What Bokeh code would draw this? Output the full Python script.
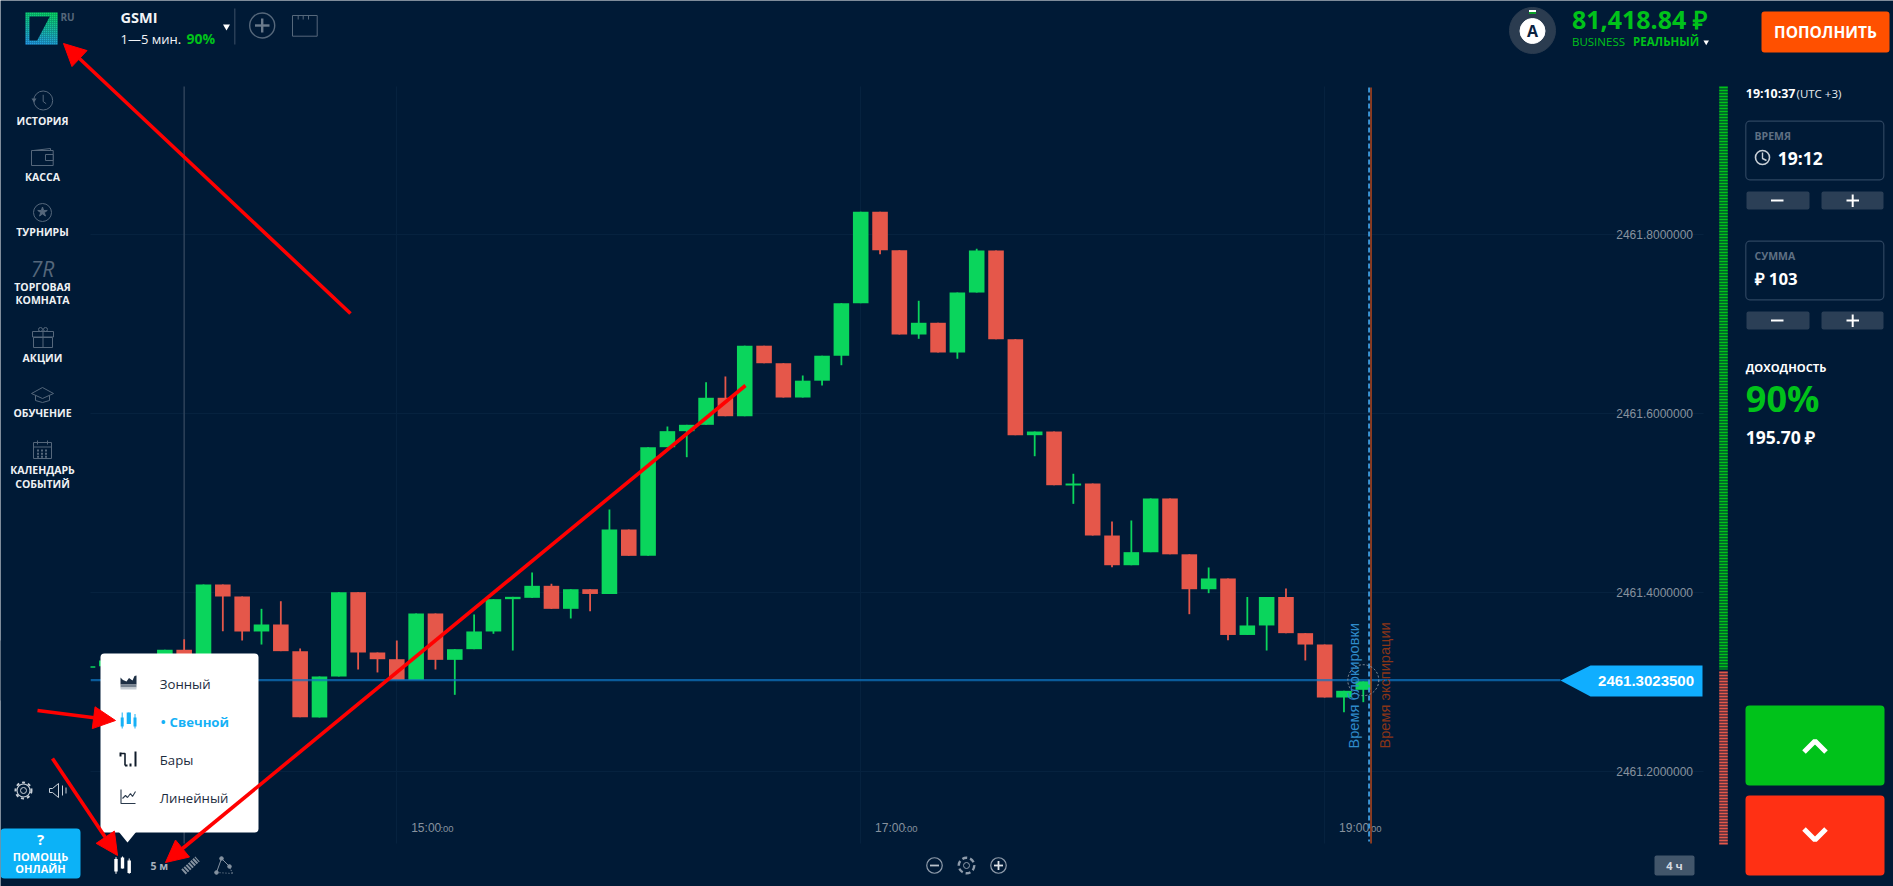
from math import pi
import numpy as np
from bokeh.core.properties import value
from bokeh.embed import file_html
from bokeh.models import Arrow, BoxAnnotation, ColumnDataSource, FixedTicker, Grid, LinearAxis, NormalHead, PrintfTickFormatter, Range1d
from bokeh.plotting import figure
from bokeh.resources import INLINE

# ---------- data ----------
first_candle_minute = 820          # 13:40, minutes since midnight, 5 min candles
open_ = [2461.3162,2461.3180,2461.3244,2461.3180,2461.3244,2461.3363,2461.3244,2461.4093,2461.3959,2461.3568,2461.3646,2461.3348,2461.2607,2461.3065,2461.4007,2461.3333,2461.3258,2461.3026,2461.3769,2461.3251,2461.3370,2461.3568,2461.3929,2461.3944,2461.4078,2461.3821,2461.4040,2461.3987,2461.4707,2461.4413,2461.5627,2461.5806,2461.5877,2461.6179,2461.5973,2461.6761,2461.6565,2461.6182,2461.6370,2461.6649,2461.7236,2461.8257,2461.7828,2461.6886,2461.7017,2461.6685,2461.7355,2461.7825,2461.6834,2461.5761,2461.5802,2461.5199,2461.5221,2461.4640,2461.4308,2461.4454,2461.5054,2461.4430,2461.4040,2461.4160,2461.3529,2461.3635,2461.3953,2461.3549,2461.3422,2461.2830,2461.2916]
close = [2461.3180,2461.3244,2461.3180,2461.3244,2461.3363,2461.3244,2461.4093,2461.3959,2461.3568,2461.3646,2461.3348,2461.2610,2461.3065,2461.4007,2461.3333,2461.3258,2461.3026,2461.3769,2461.3251,2461.3370,2461.3568,2461.3929,2461.3955,2461.4078,2461.3821,2461.4040,2461.3987,2461.4707,2461.4413,2461.5627,2461.5806,2461.5877,2461.6179,2461.5973,2461.6761,2461.6565,2461.6182,2461.6370,2461.6649,2461.7236,2461.8257,2461.7828,2461.6886,2461.7017,2461.6685,2461.7355,2461.7825,2461.6834,2461.5761,2461.5802,2461.5202,2461.5221,2461.4640,2461.4308,2461.4454,2461.5054,2461.4430,2461.4040,2461.4160,2461.3529,2461.3635,2461.3953,2461.3549,2461.3422,2461.2830,2461.2905,2461.3012]
high  = [2461.3180,2461.3244,2461.3244,2461.3244,2461.3363,2461.3482,2461.4093,2461.4093,2461.3959,2461.3821,2461.3906,2461.3378,2461.3065,2461.4007,2461.4007,2461.3333,2461.3467,2461.3769,2461.3769,2461.3370,2461.3758,2461.3929,2461.3955,2461.4227,2461.4101,2461.4040,2461.4040,2461.4931,2461.4707,2461.5627,2461.5858,2461.5877,2461.6353,2461.6417,2461.6761,2461.6761,2461.6565,2461.6428,2461.6649,2461.7236,2461.8257,2461.8257,2461.7828,2461.7263,2461.7017,2461.7355,2461.7844,2461.7825,2461.6834,2461.5802,2461.5802,2461.5330,2461.5221,2461.4797,2461.4808,2461.5054,2461.5054,2461.4430,2461.4283,2461.4160,2461.3953,2461.3953,2461.4048,2461.3549,2461.3422,2461.2905,2461.3012]
low   = [2461.3162,2461.3180,2461.3180,2461.3180,2461.3244,2461.3244,2461.3244,2461.3571,2461.3467,2461.3422,2461.3348,2461.2610,2461.2607,2461.3065,2461.3143,2461.3110,2461.3026,2461.3026,2461.3143,2461.2860,2461.3370,2461.3542,2461.3355,2461.3944,2461.3821,2461.3713,2461.3794,2461.3987,2461.4413,2461.4413,2461.5627,2461.5515,2461.5877,2461.5973,2461.5973,2461.6565,2461.6182,2461.6182,2461.6316,2461.6543,2461.7236,2461.7783,2461.6886,2461.6838,2461.6685,2461.6615,2461.7355,2461.6834,2461.5761,2461.5526,2461.5202,2461.4994,2461.4640,2461.4286,2461.4308,2461.4454,2461.4430,2461.3761,2461.3996,2461.3470,2461.3529,2461.3355,2461.3549,2461.3244,2461.2830,2461.2666,2461.2778]

price_ticks = [2461.2, 2461.4, 2461.6, 2461.8]
time_ticks = [900, 1020, 1140]
time_labels = ["15:00", "17:00", "19:00"]
seconds_label = ":00"
current_price = 2461.30235
current_price_label = "2461.3023500"
window_marker_minute = 845
lock_minute = 1151.5
expiry_minute = 1152
lock_label = "Время блокировки"
expiry_label = "Время экспирации"

nav_labels = ["ИСТОРИЯ", "КАССА", "ТУРНИРЫ", "ТОРГОВАЯ", "КОМНАТА", "АКЦИИ", "ОБУЧЕНИЕ", "КАЛЕНДАРЬ", "СОБЫТИЙ"]
nav_label_y = [120.7, 176, 231.7, 286, 299.7, 357.7, 412, 469.7, 483.7]
menu_labels = ["Зонный", "Свечной", "Бары", "Линейный"]

# ---------- colours ----------
BG = "#001a36"; GREEN = "#0ad55c"; RED = "#e5574a"; UI_GREEN = "#00c21a"; GRID = "#06223f"
ICON = "#55677b"; TXT = "#eef1f4"; AXIS_TXT = "#87929e"; LINE_RED = "#ff0000"; PANEL = "#2b3f56"

W, H = 1893, 886
X0_PX, X0_MIN, PX_PER_MIN = 396.3, 900.0, 19.33 / 5
Y0_PX, Y0_VAL, PX_PER_VAL = 234.3, 2461.8, 895.0
def to_min(px): return X0_MIN + (px - X0_PX) / PX_PER_MIN
def to_val(py): return Y0_VAL - (py - Y0_PX) / PX_PER_VAL

p = figure(width=W, height=H, output_backend="svg", toolbar_location=None, tools="",
           x_range=Range1d(to_min(0), to_min(W)), y_range=Range1d(to_val(H), to_val(0)),
           x_axis_location=None, y_axis_location=None, min_border=0, outline_line_color=None,
           background_fill_color=BG, border_fill_color=BG)
p.extra_x_ranges["px"] = Range1d(0, W)
p.extra_y_ranges["px"] = Range1d(H, 0)
p.xgrid.visible = False
p.ygrid.visible = False
PX = dict(x_range_name="px", y_range_name="px")

def txt(x, y, s, size, color=TXT, bold=False, font="Open Sans", align="left", style=None, level="overlay", **kw):
    p.text([x], [y], text=[s], text_font=value(font), text_font_size=f"{size}px",
           text_font_style=style or ("bold" if bold else "normal"), text_color=color,
           text_align=align, text_baseline="middle", level=level, **PX, **kw)

def ln(xs, ys, color=ICON, width=1.0, dash="solid", alpha=1.0, cap="butt"):
    p.line(xs, ys, line_color=color, line_width=width, line_dash=dash, line_alpha=alpha,
           line_cap=cap, level="overlay", **PX)

def ring(x, y, d, color=ICON, width=1.0, fill=None, dash="solid"):
    p.scatter([x], [y], size=d, marker="circle", fill_color=fill, fill_alpha=1 if fill else 0,
              line_color=color, line_width=width, line_dash=dash, level="overlay", **PX)

def poly(xs, ys, fill, line=None, width=1.0):
    p.patch(xs, ys, fill_color=fill, line_color=line, line_width=width, level="overlay", **PX)

def box(l, t, r, b, fill=None, line=None, width=1.0, radius=0):
    p.add_layout(BoxAnnotation(left=l, right=r, top=t, bottom=b, fill_color=fill or BG,
                               fill_alpha=1 if fill else 0, line_color=line or BG,
                               line_alpha=1 if line else 0, line_width=width,
                               border_radius=radius, **PX))

def arrow(x0, y0, x1, y1):
    p.add_layout(Arrow(x_start=x0, y_start=y0, x_end=x1, y_end=y1, line_color=LINE_RED, line_width=3.6,
                       end=NormalHead(size=22, fill_color=LINE_RED, line_color=LINE_RED, line_width=1),
                       level="overlay", **PX))

# ---------- chart: grids, axis, candles ----------
p.add_layout(Grid(dimension=1, ticker=FixedTicker(ticks=price_ticks), grid_line_color=GRID, grid_line_width=1,
                  cross_bounds=(to_min(90), to_min(1703))))
p.add_layout(Grid(dimension=0, ticker=FixedTicker(ticks=time_ticks), grid_line_color=GRID, grid_line_width=1,
                  cross_bounds=(to_val(843), to_val(86))))
y_axis = LinearAxis(fixed_location=to_min(1702.5), ticker=FixedTicker(ticks=price_ticks),
                    formatter=PrintfTickFormatter(format="%.7f"), axis_line_color=None, major_tick_line_color=None,
                    minor_tick_line_color=None, major_label_standoff=4, major_label_text_color=AXIS_TXT,
                    major_label_text_font="Liberation Sans", major_label_text_font_size="12px")
p.add_layout(y_axis, "left")

for s, lab in zip(time_ticks, time_labels):
    p.text([s], [827], text=[lab], text_font=value("Liberation Sans"), text_font_size="12px", text_color=AXIS_TXT,
           text_baseline="middle", x_offset=14.4, y_range_name="px")
    p.text([s], [827.5], text=[seconds_label], text_font=value("Liberation Sans"), text_font_size="9.5px",
           text_color=AXIS_TXT, text_baseline="middle", x_offset=43.6, y_range_name="px")

p.segment([window_marker_minute], [to_val(86)], [window_marker_minute], [to_val(843)],
          line_color="#2d425a", line_width=1.5)

minutes = first_candle_minute + 5 * np.arange(len(open_))
up = np.array(close) >= np.array(open_)
src = ColumnDataSource(dict(x=minutes, open=open_, close=close, high=high, low=low,
                            top=np.maximum(open_, close), bottom=np.minimum(open_, close),
                            color=[GREEN if u else RED for u in up]))
p.segment("x", "high", "x", "low", source=src, line_color="color", line_width=1.8)
p.vbar("x", 4.03, "bottom", "top", source=src, fill_color="color", line_color=None)
box(0, 640, 90, 700, fill=BG)

p.segment([to_min(90)], [current_price], [to_min(1560)], [current_price], line_color="#0e75c0", line_width=2.2, line_alpha=0.72)
p.segment([lock_minute], [to_val(87)], [lock_minute], [to_val(841)], line_color="#3a95d6", line_width=2, line_dash="5 3")
p.segment([expiry_minute], [to_val(87)], [expiry_minute], [to_val(843)], line_color="#a8431d", line_width=1.6)
p.scatter([minutes[-1]], [current_price], size=31, marker="circle", fill_alpha=0, line_color="#8d98a4", line_dash="2 2", line_width=1)

p.text([lock_minute], [748], text=[lock_label], angle=pi/2, text_font=value("Liberation Sans"), text_font_size="14.6px",
       text_color="#2f8bcb", text_baseline="middle", x_offset=-15.5, y_range_name="px")
p.text([expiry_minute], [748], text=[expiry_label], angle=pi/2, text_font=value("Liberation Sans"), text_font_size="14.6px",
       text_color="#8a3516", text_baseline="middle", x_offset=13.7, y_range_name="px")

# price tag
poly([1560, 1590, 1702, 1702, 1590], [680, 665, 665, 696, 696], "#10aeff")
txt(1693.5, 680.5, current_price_label, 15, "#ffffff", True, "Liberation Sans", "right")

# 4h tag
box(1654, 855, 1694, 875, fill="#42566b", radius=2)
txt(1674, 865, "4 ч", 11, "#d5dbe1", True, align="center")

# sentiment bars
ln([1723, 1723], [86, 669], UI_GREEN, 8.6, "2 1")
ln([1723, 1723], [671, 844], RED, 8.6, "2 1")

# ---------- top bar ----------
cells = 16
cx, cy, cc = [], [], []
for i in range(cells):
    for j in range(cells):
        u, v = (i + .5) / cells, (j + .5) / cells
        t = 0.85 * v + 0.15 * (1 - u)
        cx.append(25 + i * 2); cy.append(12 + j * 2)
        a, b = (8, 226, 96), (38, 158, 238)
        cc.append("#%02x%02x%02x" % tuple(int(a[k] + (b[k] - a[k]) * t) for k in range(3)))
p.quad(left=cx, right=[c + 2.05 for c in cx], top=cy, bottom=[c + 2.05 for c in cy], fill_color=cc, line_color=None, level="overlay", **PX)
poly([29, 49.3, 36.7, 29], [16, 16, 40, 40], BG)
txt(60, 16, "RU", 10, "#55677a", True)

txt(120, 17, "GSMI", 14.5, "#f2f4f6", True)
txt(120, 38, "1—5 мин.", 13, "#f2f4f6")
txt(186, 38, "90%", 14, UI_GREEN, True)
p.scatter([226], [26], size=7, marker="inverted_triangle", fill_color="#ffffff", line_color=None, level="overlay", **PX)
ln([234.3, 234.3], [8, 44], "#33485f", 1.2)
ring(261.7, 25, 25, "#56687b", 1.4)
ln([254.5, 269], [25, 25], "#6b7b8c", 2.4)
ln([261.7, 261.7], [18, 32], "#6b7b8c", 2.4)
poly([292, 316.7, 316.7, 292], [15, 15, 35.7, 35.7], BG, "#56687b", 1)
for xt in (297.7, 302.7, 308):
    ln([xt, xt], [15, 19], "#56687b", 1)

ring(1532, 30, 46, "#2b3c50", 1, "#2b3c50")
ring(1532, 30.5, 25, "#ffffff", 1, "#ffffff")
txt(1532, 30.5, "A", 16, "#0a2240", True, align="center")
ln([1528.5, 1535.5], [10.5, 10.5], "#ffffff", 2)
ln([1528.5, 1535.5], [12.5, 12.5], UI_GREEN, 1.5)
txt(1571.5, 18.5, "81,418.84 ₽", 25, UI_GREEN, True)
txt(1571.5, 41, "BUSINESS", 11.5, UI_GREEN)
txt(1632.5, 41, "РЕАЛЬНЫЙ", 11.5, UI_GREEN, True)
p.scatter([1705.7], [41.5], size=5.5, marker="inverted_triangle", fill_color="#ffffff", line_color=None, level="overlay", **PX)
box(1761, 11, 1889, 52, fill="#ff5000", radius=3)
txt(1825, 31, "ПОПОЛНИТЬ", 15.5, "#ffffff", True, align="center")

# ---------- left rail ----------
for s, y in zip(nav_labels, nav_label_y):
    txt(42, y, s, 10.5, TXT, True, align="center")
# history
ring(42.7, 100, 19); ln([42.7, 42.7, 45.7], [94.3, 101, 103.3])
poly([31, 36, 33.5], [98, 98, 102], ICON)
# wallet
poly([31, 52.7, 52.7, 31], [150, 150, 165, 165], BG, ICON)
ln([33, 50, 50], [150, 148, 150]); poly([45, 52.7, 52.7, 45], [154, 154, 160, 160], BG, ICON)
# tournaments
ring(42, 212, 18)
p.scatter([42], [211.5], size=10, marker="star", fill_color=ICON, line_color=ICON, level="overlay", **PX)
txt(42, 268, "7R", 21, ICON, align="center", style="italic")
# gift
poly([33, 52, 52, 33], [337, 337, 347, 347], BG, ICON)
poly([32, 53, 53, 32], [331, 331, 336.5, 336.5], BG, ICON)
ln([42.5, 42.5], [331, 347]); ring(40, 329, 4); ring(45, 329, 4)
# education
ln([31, 42, 53, 42, 31], [393, 387, 393, 398, 393]); ln([35, 35, 42, 49, 49], [395, 400, 402, 400, 395])
# calendar
poly([33, 51, 51, 33], [442, 442, 458, 458], BG, ICON); ln([33, 51], [446.5, 446.5])
ln([37, 37], [440, 444]); ln([47, 47], [440, 444])
for yy in (450, 453.2, 456.3):
    ln([36.5, 47.5], [yy, yy], ICON, 2, "2 2")

ring(23, 790, 13, "#c7cfd7", 1.1)
ring(23, 790, 16, "#c7cfd7", 2, dash="3 3")
ring(23, 790, 6, "#c7cfd7", 1)
ln([49, 52, 58, 58, 52, 49, 49], [788, 788, 783, 797, 792, 792, 788], "#c7cfd7", 1)
ln([62, 62], [785, 795], "#c7cfd7", 1); ln([65.5, 65.5], [787, 793], "#c7cfd7", 1)

box(0, 828, 80, 878, fill="#0cb2f7", radius=4)
txt(40, 838, "?", 15, "#ffffff", True, align="center")
txt(40, 856, "ПОМОЩЬ", 11, "#ffffff", True, align="center")
txt(40, 868, "ОНЛАЙН", 11, "#ffffff", True, align="center")

# ---------- bottom toolbar ----------
for xw, yt, yb, by0, by1 in ((115.5, 856.7, 873.3, 858.5, 871), (122, 856, 868, 857, 868), (128.7, 858, 873.3, 860, 872.5)):
    ln([xw, xw], [yt, yb], "#ffffff", 1)
    ln([xw, xw], [by0, by1], "#ffffff", 3.4)
txt(150, 865, "5 м", 10.5, "#a9b3bd", True)
ln([183, 197], [871.5, 858.5], "#8592a0", 6.5, "2 1")
ln([216, 221, 229], [872, 858, 866], "#8592a0", 1)
ln([229, 232], [866, 873], "#8592a0", 1, "1 1")
ln([216, 232], [872, 873], "#8592a0", 1, "1 2")
for xn, yn in ((216, 872), (221, 858), (229, 866)):
    ring(xn, yn, 3.6, "#8592a0", 1, "#8592a0")

ring(934, 865, 15.5, "#8f9cab", 1.2); ln([929.5, 938.5], [865, 865], "#b9c2cb", 1.8)
ring(966, 865, 15.5, "#8f9cab", 2.4, dash="5 3"); ring(966, 865, 6, "#8f9cab", 1)
ring(998, 865, 15.5, "#8f9cab", 1.2); ln([993.5, 1002.5], [865, 865], "#dfe4e9", 1.8); ln([998, 998], [860.5, 869.5], "#dfe4e9", 1.8)

# ---------- chart-type popup ----------
box(100, 653, 258, 832, fill="#ffffff", radius=4)
poly([118, 136, 127], [831, 831, 842], "#ffffff")
DARK = "#1c2b3d"; BLUE = "#16b1f6"
txt(159.3, 683, menu_labels[0], 13.2, DARK)
txt(160.2, 721.3, "•", 13, BLUE, True)
txt(169, 721.3, menu_labels[1], 13.2, BLUE, True)
txt(159.3, 759.3, menu_labels[2], 13.2, DARK)
txt(159.3, 797, menu_labels[3], 13.2, DARK)
poly([120, 122.5, 126, 128.5, 132, 134, 136, 136, 120], [677, 679.5, 681, 677.5, 680, 675.5, 675, 684, 684], "#1d2f44")
poly([120, 136, 136, 120], [684, 684, 687, 687], "#76828f")
poly([120, 136, 136, 120], [687, 687, 689, 689], "#c5ccd3")
for xw, yt, yb, by0, by1, wd in ((121.7, 712, 728, 717, 726, 3), (128.3, 712, 723.5, 712, 723.5, 4.2), (134.5, 713.5, 728, 717, 726, 3)):
    ln([xw, xw], [yt, yb], BLUE, 1); ln([xw, xw], [by0, by1], BLUE, wd)
ln([120, 120], [752, 756], "#101c2b", 2); ln([120, 124.5, 124.5], [753, 753, 765], "#101c2b", 1.6)
ln([124.5, 127], [765, 765], "#101c2b", 2); ln([130, 130], [763, 766], "#101c2b", 2); ln([135, 135], [751, 766], "#101c2b", 2)
ln([120.5, 120.5, 135], [789, 803, 803], "#2a3a4c", 1.1); ln([122, 125, 127, 130, 132, 135], [798, 795, 797, 793, 796, 791], "#2a3a4c", 1.1)

# ---------- right panel ----------
txt(1745.3, 93, "19:10:37", 12.4, "#ffffff", True)
txt(1796, 93, "(UTC +3)", 11.5, "#e6eaee")
box(1745.3, 120.7, 1883.3, 179.3, line="#2d4560", width=1.2, radius=4)
txt(1754, 135, "ВРЕМЯ", 10.5, "#5f7083", True)
ring(1762, 157, 14, "#c9d0d7", 1.6); ln([1762, 1762, 1766], [152, 158, 160], "#c9d0d7", 1.4)
txt(1777.3, 157.5, "19:12", 17.5, "#ffffff", True)
box(1745.3, 240.7, 1883.3, 299.3, line="#2d4560", width=1.2, radius=4)
txt(1754, 255, "СУММА", 10.5, "#5f7083", True)
txt(1754, 277.5, "₽ 103", 16.8, "#ffffff", True)
for yt in (191, 311):
    box(1746, yt, 1809, yt + 18, fill=PANEL, radius=2)
    box(1821, yt, 1883, yt + 18, fill=PANEL, radius=2)
    ln([1770.5, 1783], [yt + 9, yt + 9], "#ffffff", 2)
    ln([1846, 1858.5], [yt + 9, yt + 9], "#ffffff", 2)
    ln([1852.2, 1852.2], [yt + 3, yt + 15.5], "#ffffff", 2)
txt(1745.3, 366.7, "ДОХОДНОСТЬ", 11.2, "#ffffff", True)
txt(1745.3, 398, "90%", 36, UI_GREEN, True)
txt(1745.3, 436.3, "195.70 ₽", 17.5, "#ffffff", True)

box(1745, 705, 1884, 785, fill="#00c21a", radius=4)
box(1745, 795, 1884, 875, fill="#ff3014", radius=4)
ln([1803.5, 1814.5, 1825.5], [751.5, 740.5, 751.5], "#ffffff", 5)
ln([1803.5, 1814.5, 1825.5], [828.5, 839.5, 828.5], "#ffffff", 5)

# ---------- annotation arrows ----------
arrow(350, 313, 63, 43)
arrow(745, 385, 165, 862)
arrow(37, 710, 115, 720)
arrow(52, 758, 117, 855)

open("out.html", "w").write(file_html(p, INLINE))
